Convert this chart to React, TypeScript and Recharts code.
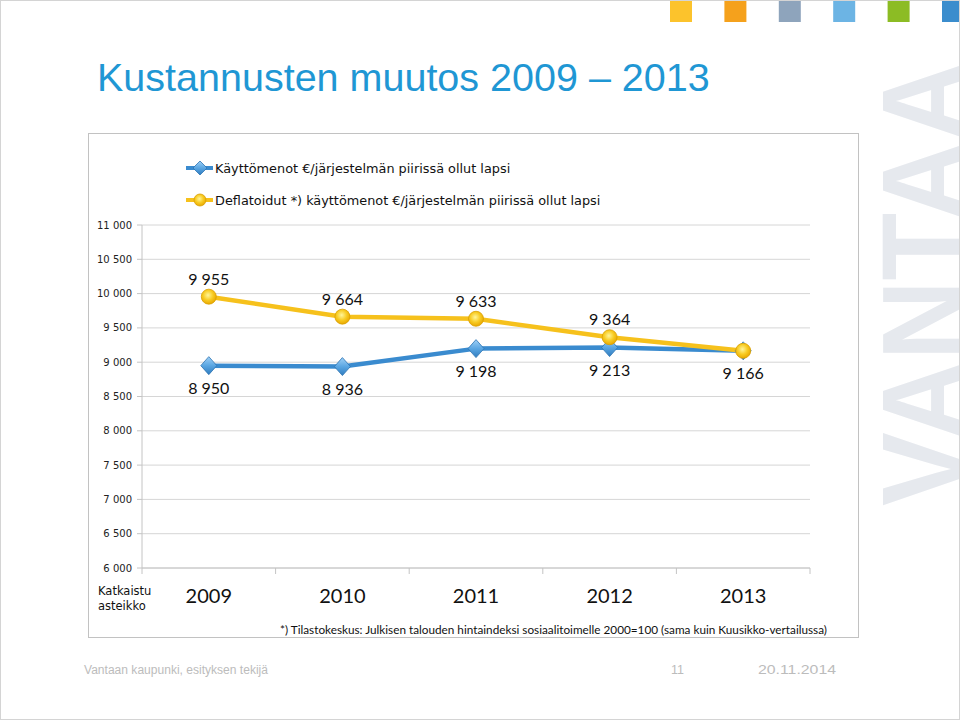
import React from 'react';
import { LineChart, Line, XAxis, YAxis, CartesianGrid } from 'recharts';

const years = ['2009', '2010', '2011', '2012', '2013'];
const nominalCost = [8950, 8936, 9198, 9213, 9166];
const deflatedCost = [9955, 9664, 9633, 9364, 9166];
const yTicks = [6000, 6500, 7000, 7500, 8000, 8500, 9000, 9500, 10000, 10500, 11000];
const seriesNames = [
  'Käyttömenot €/järjestelmän piirissä ollut lapsi',
  'Deflatoidut *) käyttömenot €/järjestelmän piirissä ollut lapsi',
];
const titleText = 'Kustannusten muutos 2009 – 2013';
const footnoteText =
  '*) Tilastokeskus: Julkisen talouden hintaindeksi sosiaalitoimelle 2000=100 (sama kuin Kuusikko-vertailussa)';
const axisNote = ['Katkaistu', 'asteikko'];
const footerLeft = 'Vantaan kaupunki, esityksen tekijä';
const footerPage = '11';
const footerDate = '20.11.2014';
const watermarkText = 'VANTAA';
const brandColors = ['#fcc32c', '#f5a11c', '#8ea4bc', '#6cb4e4', '#8cbc24', '#3b8dcd'];

const data = years.map((year, i) => ({ year, nominal: nominalCost[i], deflated: deflatedCost[i] }));

const fmt = (v: number) => String(v).replace(/\B(?=(\d{3})+(?!\d))/g, ' ');

const CHART_W = 771;
const CHART_H = 505;
const Y_W = 54;
const X_H = 70;
const MARGIN = { top: 92, right: 49, bottom: 0, left: 0 };
const PLOT_W = CHART_W - Y_W - MARGIN.right;
const BAND = PLOT_W / years.length;

const BLUE = '#3a8bcf';
const YELLOW = '#f6c11c';
const LABEL_FONT = 'Lato, "Open Sans", sans-serif';
const UI_FONT = '"DejaVu Sans", Verdana, sans-serif';
const SLIDE_FONT = '"Liberation Sans", Arial, sans-serif';

const Diamond = (props: any) => {
  const { cx, cy, index } = props;
  if (cx == null || cy == null) return null;
  return (
    <polygon
      key={`d-${index}`}
      points={`${cx},${cy - 9} ${cx + 8},${cy} ${cx},${cy + 9} ${cx - 8},${cy}`}
      fill="url(#diamondGrad)"
      stroke="#2c74b2"
      strokeWidth={0.8}
    />
  );
};

const Ball = (props: any) => {
  const { cx, cy, index } = props;
  if (cx == null || cy == null) return null;
  return (
    <circle key={`c-${index}`} cx={cx} cy={cy} r={7.5} fill="url(#ballGrad)" stroke="#d9a000" strokeWidth={0.8} />
  );
};

const blueLabel = (p: any) => (
  <text key={`bl-${p.index}`} x={p.x} y={p.y + 28} textAnchor="middle" fontFamily={LABEL_FONT} fontSize={16} fill="#111">
    {fmt(p.value)}
  </text>
);

const yellowLabel = (p: any) => {
  if (p.index === years.length - 1) return null;
  return (
    <text key={`yl-${p.index}`} x={p.x} y={p.y - 12} textAnchor="middle" fontFamily={LABEL_FONT} fontSize={16} fill="#111">
      {fmt(p.value)}
    </text>
  );
};

const XTick = (props: any) => {
  const { x, y, payload, index } = props;
  return (
    <g>
      {index === 0 && <line x1={x - BAND / 2} y1={y} x2={x - BAND / 2} y2={y + 6} stroke="#c4c4c4" />}
      <line x1={x + BAND / 2} y1={y} x2={x + BAND / 2} y2={y + 6} stroke="#c4c4c4" />
      <text x={x} y={y + 35} textAnchor="middle" fontFamily={LABEL_FONT} fontSize={20} fill="#111">
        {payload.value}
      </text>
    </g>
  );
};

const LegendIcon = ({ y, kind }: { y: number; kind: 'diamond' | 'ball' }) => (
  <g>
    <line x1={98} y1={y} x2={125} y2={y} stroke={kind === 'diamond' ? BLUE : YELLOW} strokeWidth={4} />
    {kind === 'diamond' ? (
      <polygon
        points={`112,${y - 7} 119,${y} 112,${y + 7} 105,${y}`}
        fill="url(#diamondGrad)"
        stroke="#2c74b2"
        strokeWidth={0.8}
      />
    ) : (
      <circle cx={112} cy={y} r={6} fill="url(#ballGrad)" stroke="#d9a000" strokeWidth={0.8} />
    )}
  </g>
);

export default function App() {
  return (
    <div
      style={{
        position: 'absolute',
        left: 0,
        top: 0,
        width: 960,
        height: 720,
        overflow: 'hidden',
        background: '#fff',
        boxSizing: 'border-box',
        border: '1px solid #d4d4d4',
      }}
    >
      <svg width={0} height={0} style={{ position: 'absolute' }}>
        <defs>
          <linearGradient id="diamondGrad" x1="0" y1="0" x2="0" y2="1">
            <stop offset="0%" stopColor="#9fd0f6" />
            <stop offset="50%" stopColor="#5aa6e2" />
            <stop offset="100%" stopColor="#2f7cbf" />
          </linearGradient>
          <radialGradient id="ballGrad" cx="45%" cy="40%" r="60%">
            <stop offset="0%" stopColor="#fff59a" />
            <stop offset="55%" stopColor="#f8cc24" />
            <stop offset="100%" stopColor="#e9a800" />
          </radialGradient>
        </defs>
      </svg>

      <svg width={960} height={720} style={{ position: 'absolute', left: 0, top: 0 }}>
        {brandColors.map((c, i) => (
          <rect key={c} x={669 + i * 54.4} y={0} width={22} height={21} fill={c} />
        ))}
        <text
          transform="translate(964,505) rotate(-90)"
          fontFamily={SLIDE_FONT}
          fontWeight="bold"
          fontSize={118}
          fill="#e6e9ee"
          textLength={445}
          lengthAdjust="spacingAndGlyphs"
        >
          {watermarkText}
        </text>
        <text x={96} y={90} fontFamily={SLIDE_FONT} fontSize={39.5} fill="#1f97d4">
          {titleText}
        </text>
        <text x={83} y={673} fontFamily={SLIDE_FONT} fontSize={12.5} fill="#bcbcbc" textLength={184} lengthAdjust="spacingAndGlyphs">
          {footerLeft}
        </text>
        <text x={670} y={673} fontFamily={SLIDE_FONT} fontSize={12.5} fill="#bcbcbc">
          {footerPage}
        </text>
        <text x={757} y={673} fontFamily={SLIDE_FONT} fontSize={12.5} fill="#bcbcbc" textLength={78} lengthAdjust="spacingAndGlyphs">
          {footerDate}
        </text>
      </svg>

      <div
        style={{
          position: 'absolute',
          left: 87,
          top: 132,
          width: CHART_W,
          height: CHART_H,
          boxSizing: 'border-box',
          border: '1px solid #c2c2c2',
          background: '#fff',
        }}
      />

      <div style={{ position: 'absolute', left: 87, top: 132 }}>
        <LineChart width={CHART_W} height={CHART_H} data={data} margin={MARGIN}>
          <CartesianGrid vertical={false} stroke="#d6d6d6" />
          <XAxis
            dataKey="year"
            height={X_H}
            padding={{ left: BAND / 2, right: BAND / 2 }}
            tickLine={false}
            tickSize={0}
            tickMargin={0}
            axisLine={{ stroke: '#c4c4c4' }}
            tick={<XTick />}
            interval={0}
          />
          <YAxis
            width={Y_W}
            domain={[6000, 11000]}
            ticks={yTicks}
            interval={0}
            tickFormatter={fmt}
            tickSize={5}
            tickMargin={5}
            axisLine={{ stroke: '#c4c4c4' }}
            tickLine={{ stroke: '#c4c4c4' }}
            tick={{ fontFamily: UI_FONT, fontSize: 10, fill: '#222' }}
          />
          <Line
            dataKey="nominal"
            name={seriesNames[0]}
            stroke={BLUE}
            strokeWidth={4.5}
            strokeLinejoin="round"
            dot={<Diamond />}
            activeDot={false}
            label={blueLabel}
            isAnimationActive={false}
          />
          <Line
            dataKey="deflated"
            name={seriesNames[1]}
            stroke={YELLOW}
            strokeWidth={4.5}
            strokeLinejoin="round"
            dot={<Ball />}
            activeDot={false}
            label={yellowLabel}
            isAnimationActive={false}
          />
        </LineChart>
      </div>

      <svg width={CHART_W} height={CHART_H} style={{ position: 'absolute', left: 87, top: 132, pointerEvents: 'none' }}>
        <LegendIcon y={35} kind="diamond" />
        <text x={127} y={40} fontFamily={UI_FONT} fontSize={12.85} fill="#111">
          {seriesNames[0]}
        </text>
        <LegendIcon y={67} kind="ball" />
        <text x={127} y={72} fontFamily={UI_FONT} fontSize={12.85} fill="#111">
          {seriesNames[1]}
        </text>
        <text x={10} y={462} fontFamily={UI_FONT} fontSize={11.5} fill="#111">
          {axisNote[0]}
        </text>
        <text x={10} y={477} fontFamily={UI_FONT} fontSize={11.5} fill="#111">
          {axisNote[1]}
        </text>
        <text x={192} y={501} fontFamily={LABEL_FONT} fontSize={11.75} fill="#111">
          {footnoteText}
        </text>
      </svg>
    </div>
  );
}
